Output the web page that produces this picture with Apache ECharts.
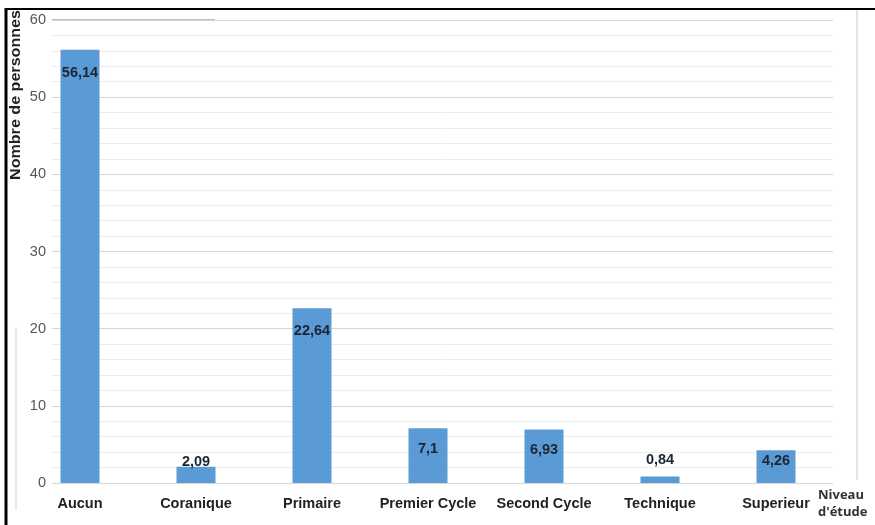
<!DOCTYPE html>
<html><head><meta charset="utf-8">
<script src="https://cdn.jsdelivr.net/npm/echarts@6/dist/echarts.min.js"></script>
<style>html,body{margin:0;padding:0;background:#fff}#c{width:875px;height:525px}</style>
</head><body><div id="c"></div>
<script>
const categories = ['Aucun','Coranique','Primaire','Premier Cycle','Second Cycle','Technique','Superieur'];
const values = [56.14, 2.09, 22.64, 7.1, 6.93, 0.84, 4.26];
const yTicks = [0, 10, 20, 30, 40, 50, 60];

const NARROW = '"Liberation Sans Narrow", "Liberation Sans", Arial, sans-serif';
const labelPos = ['insideTop','top','insideTop','insideTop','insideTop','top','insideTop'];
const labelDist = [16, -3, 15, 13, 13, 9, 3];

const chart = echarts.init(document.getElementById('c'));
chart.setOption({
  animation: false,
  backgroundColor: '#fff',
  grid: [
    {left: 52, right: 42, top: 20, bottom: 42},
    {left: 22, width: 812, top: 20, bottom: 42}
  ],
  xAxis: [
    {gridIndex: 0, type: 'category', data: categories, show: false},
    {gridIndex: 1, type: 'category', data: categories,
     axisLine: {show: false}, axisTick: {show: false},
     axisLabel: {interval: 0, margin: 13, fontFamily: NARROW, fontWeight: 'bold', fontSize: 14.5, color: '#222'}}
  ],
  yAxis: [
    {gridIndex: 0, type: 'value', min: yTicks[0], max: yTicks[yTicks.length-1], interval: 10,
     axisLine: {show: false}, axisTick: {show: false},
     axisLabel: {margin: 6, fontFamily: NARROW, fontSize: 14.5, color: '#555'},
     splitLine: {lineStyle: {color: '#d6d6d6', width: 1}},
     minorTick: {show: false, splitNumber: 5},
     minorSplitLine: {show: true, lineStyle: {color: '#ededed', width: 1}}},
    {gridIndex: 1, type: 'value', min: 0, max: 60, show: false, splitLine: {show: false}}
  ],
  series: [{
    type: 'bar', xAxisIndex: 1, yAxisIndex: 1,
    barWidth: 39,
    itemStyle: {color: '#5B9BD5'},
    data: values.map((v, i) => ({
      value: v,
      label: {position: labelPos[i], distance: labelDist[i]}
    })),
    label: {show: true, fontFamily: NARROW, fontWeight: 'bold', fontSize: 14.5, color: '#1a2535',
      formatter: p => String(p.value).replace('.', ',')}
  }],
  graphic: [
    {type: 'text', x: 16, y: 95, rotation: Math.PI / 2, scaleX: 1.15,
     style: {text: 'Nombre de personnes', textAlign: 'center', textVerticalAlign: 'middle',
       font: 'bold 14px "Liberation Sans", Arial, sans-serif', fill: '#222'}},
    {type: 'text', x: 818, y: 487,
     style: {text: 'Niveau\nd\'étude', textAlign: 'left', textVerticalAlign: 'top', lineHeight: 17,
       font: 'bold 13px "Open Sans", "Liberation Sans", sans-serif', fill: '#333'}},
    {type: 'line', shape: {x1: 52, y1: 20, x2: 215, y2: 20}, style: {stroke: '#bdbdbd', lineWidth: 2}},
    {type: 'line', shape: {x1: 857, y1: 10, x2: 857, y2: 480}, style: {stroke: '#dcdcdc', lineWidth: 1.5}},
    {type: 'line', shape: {x1: 16, y1: 327, x2: 16, y2: 510}, style: {stroke: '#cfcfcf', lineWidth: 1}},
    {type: 'line', shape: {x1: 6, y1: 8, x2: 6, y2: 525}, style: {stroke: '#000', lineWidth: 3}},
    {type: 'line', shape: {x1: 5, y1: 9, x2: 875, y2: 9}, style: {stroke: '#000', lineWidth: 2}}
  ]
});
</script></body></html>
